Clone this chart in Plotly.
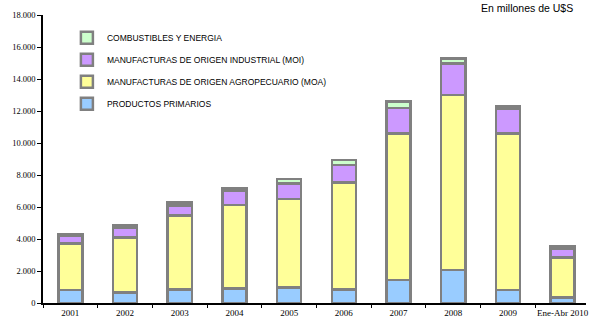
import plotly.graph_objects as go

categories = ["2001", "2002", "2003", "2004", "2005", "2006", "2007", "2008", "2009", "Ene-Abr 2010"]
primarios = [800, 650, 850, 900, 980, 830, 1440, 2060, 810, 350]
moa = [2930, 3450, 4630, 5220, 5520, 6710, 9160, 10940, 9790, 2500]
moi = [470, 630, 620, 900, 980, 1090, 1600, 1980, 1570, 570]
combustibles = [100, 150, 190, 150, 270, 310, 380, 310, 140, 140]

series = [
    ("PRODUCTOS PRIMARIOS", primarios, "#99CCFF"),
    ("MANUFACTURAS DE ORIGEN AGROPECUARIO (MOA)", moa, "#FFFF99"),
    ("MANUFACTURAS DE ORIGEN INDUSTRIAL (MOI)", moi, "#CC99FF"),
    ("COMBUSTIBLES Y ENERGIA", combustibles, "#CCFFCC"),
]

fig = go.Figure()
for i, (name, vals, col) in enumerate(series):
    fig.add_trace(go.Bar(
        x=categories, y=vals, name=name, legendgroup=str(i), legendrank=10 - i,
        marker=dict(color=col, line=dict(color="#808080", width=2.5)),
    ))

fig.update_layout(
    width=589, height=322,
    margin=dict(l=43, r=0, t=15, b=19),
    barmode="stack", bargap=0.56,
    plot_bgcolor="white", paper_bgcolor="white",
    separators=",.",
    showlegend=True,
    legend=dict(x=0.044, y=0.971, xanchor="left", yanchor="top",
                traceorder="grouped", tracegroupgap=3,
                font=dict(family="Liberation Sans, Arial", size=8.5, color="#000000"),
                bgcolor="rgba(0,0,0,0)", itemwidth=30),
    xaxis=dict(range=[-0.5, 9.427], showline=True, linecolor="black", linewidth=1.5,
               ticks="outside", ticklen=3, tickcolor="black", tickson="boundaries",
               tickangle=0,
               tickfont=dict(family="Liberation Serif, Times New Roman", size=9, color="#000000"),
               showgrid=False, fixedrange=True),
    yaxis=dict(range=[0, 18000], dtick=2000, tickformat=",d", showline=True, linecolor="black",
               linewidth=1.5, ticks="outside", ticklen=4, tickcolor="black",
               tickfont=dict(family="Liberation Serif, Times New Roman", size=8.5, color="#000000"),
               showgrid=False, zeroline=False),
    annotations=[dict(text="En millones de U$S", xref="paper", yref="paper",
                      x=0.98, y=1.052, xanchor="right", yanchor="top", showarrow=False,
                      font=dict(family="Liberation Sans, Arial", size=10.5, color="#000000"))],
)

fig.write_html("out.html")
